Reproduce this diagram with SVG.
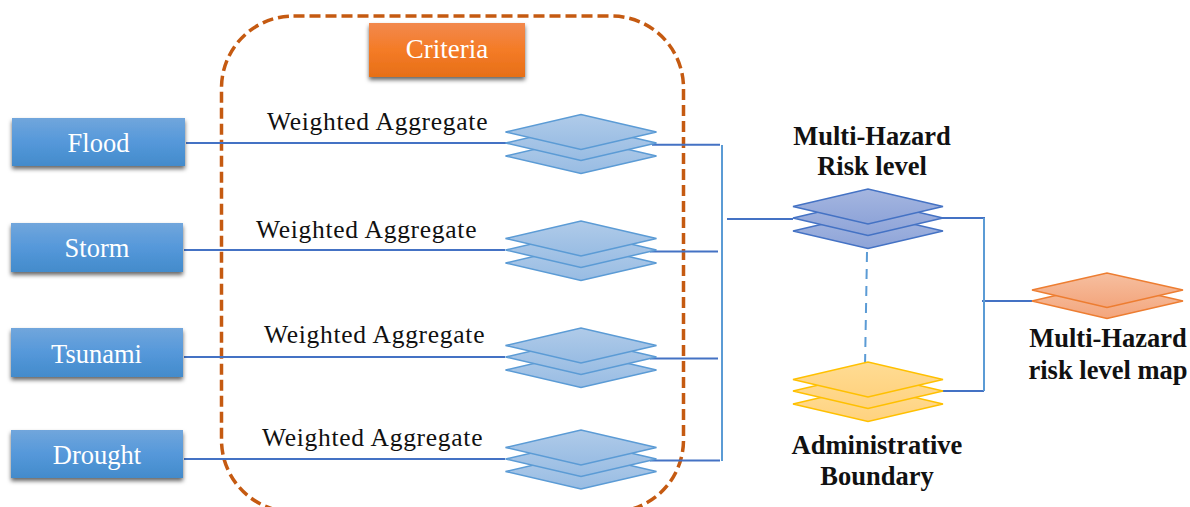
<svg xmlns="http://www.w3.org/2000/svg" width="1190" height="507" viewBox="0 0 1190 507">
<style>
text{font-family:"Liberation Serif","Times New Roman",serif}
.box text,.crit text{fill:#fff;font-size:26.500px;text-anchor:middle}
.crit text{font-size:27px}
.wa{font-size:25.500px;letter-spacing:0.720px;fill:#111}
.lbl{font-size:26.500px;font-weight:bold;fill:#111;text-anchor:middle}
.c1{fill:none;stroke:#4472C4;stroke-width:2}
.c2{fill:none;stroke:#5B9BD5;stroke-width:2}
.blue polygon{fill:url(#gBlue);stroke:#5B9BD5;stroke-width:1.500}
.dark polygon{fill:url(#gDark);stroke:#4472C4;stroke-width:1.500}
.yel polygon{fill:url(#gYel);stroke:#FFC000;stroke-width:1.500}
.ora polygon{fill:url(#gOra);stroke:#ED7D31;stroke-width:1.500}
</style>
<defs>
<linearGradient id="gBox" x1="0" y1="0" x2="0" y2="1"><stop offset="0" stop-color="#71A6DC"/><stop offset="0.5" stop-color="#5598DA"/><stop offset="1" stop-color="#438BCB"/></linearGradient>
<linearGradient id="gCrit" x1="0" y1="0" x2="0" y2="1"><stop offset="0" stop-color="#F2894E"/><stop offset="0.5" stop-color="#F47B26"/><stop offset="1" stop-color="#E76F18"/></linearGradient>
<linearGradient id="gBlue" x1="0" y1="0" x2="0" y2="1"><stop offset="0" stop-color="#B0CBE9"/><stop offset="1" stop-color="#98BCE3"/></linearGradient>
<linearGradient id="gDark" x1="0" y1="0" x2="0" y2="1"><stop offset="0" stop-color="#A5B6E0"/><stop offset="1" stop-color="#8EA4D8"/></linearGradient>
<linearGradient id="gYel" x1="0" y1="0" x2="0" y2="1"><stop offset="0" stop-color="#FFDC94"/><stop offset="1" stop-color="#FFD27F"/></linearGradient>
<linearGradient id="gOra" x1="0" y1="0" x2="0" y2="1"><stop offset="0" stop-color="#F6BFA0"/><stop offset="1" stop-color="#F3A57C"/></linearGradient>
<filter id="sh" x="-10%" y="-20%" width="120%" height="150%"><feDropShadow dx="0" dy="3" stdDeviation="2" flood-color="#000" flood-opacity="0.6"/></filter>
</defs>
<rect width="1190" height="507" fill="#fff"/>

<g id="criteria-frame"><rect x="221.500" y="16" width="462" height="496" rx="72" ry="72" fill="none" stroke="#C55A11" stroke-width="3.500" stroke-dasharray="11 5"/></g>

<g id="connectors">
<path class="c1" d="M186 143H510M652 144.700H720M184 250H505M650 251.500H718M184 357H505M650 358.500H718M184 459H505M650 460.500H720M727 219H793M938 218H985M982 301H1032M938 391H984"/>
<path class="c2" d="M722 145V461M984 218V391"/>
<path class="c2" d="M867 252L865 367" stroke-dasharray="10 7"/>
</g>

<g id="flood" class="box"><rect x="12" y="118" width="173" height="48" fill="url(#gBox)" filter="url(#sh)"/><text x="98.500" y="152">Flood</text></g>
<g id="storm" class="box"><rect x="11" y="223" width="172" height="49" fill="url(#gBox)" filter="url(#sh)"/><text x="97" y="257">Storm</text></g>
<g id="tsunami" class="box"><rect x="11" y="328" width="172" height="49" fill="url(#gBox)" filter="url(#sh)"/><text x="96.500" y="363">Tsunami</text></g>
<g id="drought" class="box"><rect x="11" y="430" width="172" height="48" fill="url(#gBox)" filter="url(#sh)"/><text x="97" y="464">Drought</text></g>
<g id="criteria" class="crit"><rect x="369" y="23" width="156" height="54" fill="url(#gCrit)" filter="url(#sh)"/><text x="447" y="58">Criteria</text></g>

<g id="label-1"><text class="wa" x="267" y="130">Weighted Aggregate</text></g>
<g id="label-2"><text class="wa" x="256" y="238">Weighted Aggregate</text></g>
<g id="label-3"><text class="wa" x="264" y="343">Weighted Aggregate</text></g>
<g id="label-4"><text class="wa" x="262" y="446">Weighted Aggregate</text></g>

<g id="stack-1" class="blue"><polygon points="505.500,156 581,138.500 656.500,156 581,173.500"/><polygon points="505.500,143 581,125.500 656.500,143 581,160.500"/><polygon points="505.500,132 581,114.500 656.500,132 581,149.500"/></g>
<g id="stack-2" class="blue"><polygon points="505.500,263 581,245.500 656.500,263 581,280.500"/><polygon points="505.500,250 581,232.500 656.500,250 581,267.500"/><polygon points="505.500,238.500 581,221 656.500,238.500 581,256"/></g>
<g id="stack-3" class="blue"><polygon points="505.500,370 581,352.500 656.500,370 581,387.500"/><polygon points="505.500,357 581,339.500 656.500,357 581,374.500"/><polygon points="505.500,345.500 581,328 656.500,345.500 581,363"/></g>
<g id="stack-4" class="blue"><polygon points="505.500,471.500 581,454 656.500,471.500 581,489"/><polygon points="505.500,459 581,441.500 656.500,459 581,476.500"/><polygon points="505.500,447.500 581,430 656.500,447.500 581,465"/></g>
<g id="risk-level" class="dark"><polygon points="793,231 868,213.500 943,231 868,248.500"/><polygon points="793,218 868,200.500 943,218 868,235.500"/><polygon points="793,206.500 868,189 943,206.500 868,224"/></g>
<g id="boundary" class="yel"><polygon points="793,404 868,386.500 943,404 868,421.500"/><polygon points="793,391 868,373.500 943,391 868,408.500"/><polygon points="793,379.500 868,362 943,379.500 868,397"/></g>
<g id="risk-map" class="ora"><polygon points="1032,301 1107,283.500 1183,301 1107,318.500"/><polygon points="1032,290 1107,273 1183,290 1107,307.500"/></g>

<g id="label-risk"><text class="lbl" x="872" y="145">Multi-Hazard</text><text class="lbl" x="872" y="175">Risk level</text></g>
<g id="label-boundary"><text class="lbl" x="877" y="454">Administrative</text><text class="lbl" x="877" y="485">Boundary</text></g>
<g id="label-map"><text class="lbl" x="1108" y="347">Multi-Hazard</text><text class="lbl" x="1108" y="379">risk level map</text></g>
</svg>
